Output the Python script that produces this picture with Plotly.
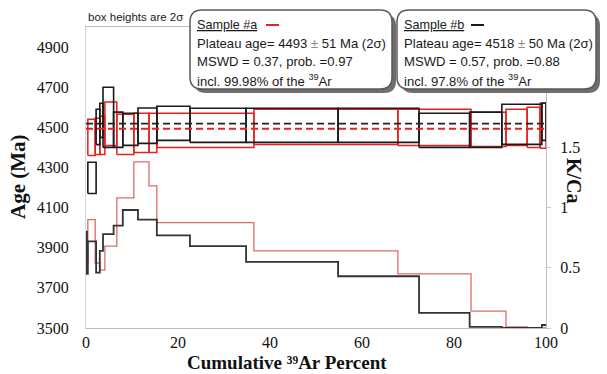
import plotly.graph_objects as go

# ---------------- data ----------------
# Sample #a (red): step boundaries in cumulative 39Ar %, apparent ages (Ma), 2-sigma, K/Ca
a_bounds = [0, 0.4, 2.0, 3.0, 4.1, 6.7, 10.4, 13.7, 15.4, 36.5, 67.8, 83.7, 91.3, 95.9, 98.7, 100]
a_age = [None, 4450, 4455, 4460, 4518, 4465, 4472, 4472, 4485, 4502, 4500, 4490, 4500, 4500, 4508]
a_err = [None, 90, 90, 95, 108, 100, 98, 98, 85, 88, 90, 85, 90, 100, 112]
a_kca = [0.54, 0.90, 0.54, 0.48, 0.68, 1.08, 1.38, 1.18, 0.875, 0.64, 0.45, 0.14, 0.01, 0.0, 0.0]

# Sample #b (black)
b_bounds = [0, 0.2, 0.4, 2.2, 3.0, 3.7, 6.0, 8.0, 11.3, 15.4, 22.6, 34.8, 54.8, 72.4, 83.4, 90.4, 99.1, 100]
b_age = [None, None, 4248, 4502, 4535, 4550, 4488, 4490, 4508, 4520, 4510, 4510, 4510, 4485, 4488, 4515, 4528]
b_err = [None, None, 78, 88, 85, 150, 88, 80, 88, 85, 85, 85, 85, 85, 88, 100, 93]
b_kca = [0.80, 0.45, 0.72, 0.46, 0.64, 0.78, 0.85, 0.98, 0.90, 0.77, 0.68, 0.55, 0.43, 0.125, 0.01, 0.0, 0.025]

plateau_age = {"a": 4493, "b": 4518}
plateau_err = {"a": 51, "b": 50}
mswd = {"a": "0.37", "b": "0.57"}
prob = {"a": "0.97", "b": "0.88"}
incl = {"a": "99.98", "b": "97.8"}

x_ticks = [0, 20, 40, 60, 80, 100]
age_ticks = [3500, 3700, 3900, 4100, 4300, 4500, 4700, 4900]
kca_ticks = [0, 0.5, 1, 1.5]
kca_labels = ["0", "0.5", "1", "1.5"]

RED = "#e3231f"
RED_LIGHT = "#e06a6a"
BLACK = "#1a1a1a"
BLACK_K = "#333333"

# ---------------- geometry ----------------
W, H = 607, 374
L, R, T, B = 86, 546, 27, 328


def px(xp):
    return (xp - L) / (R - L)


def py(yp):
    return (B - yp) / (B - T)


def boxes(bounds, ages, errs):
    xs, ys = [], []
    for i, (age, e) in enumerate(zip(ages, errs)):
        if age is None:
            continue
        x0, x1 = bounds[i], bounds[i + 1]
        lo, hi = age - e, age + e
        xs += [x0, x1, x1, x0, x0, None]
        ys += [lo, lo, hi, hi, lo, None]
    return xs, ys


fig = go.Figure()

# K/Ca step lines (secondary axis)
for bounds, kca, col, w in [(a_bounds, a_kca, RED_LIGHT, 1.3), (b_bounds, b_kca, BLACK_K, 1.8)]:
    fig.add_trace(go.Scatter(
        x=bounds[:-1] + [bounds[-1]], y=kca + [kca[-1]], mode="lines",
        line=dict(color=col, width=w, shape="hv"), yaxis="y2", hoverinfo="skip", showlegend=False))

# age spectrum boxes
ax, ay = boxes(a_bounds, a_age, a_err)
fig.add_trace(go.Scatter(x=ax, y=ay, mode="lines", line=dict(color=RED, width=1.5),
                         hoverinfo="skip", showlegend=False))
bx, by = boxes(b_bounds, b_age, b_err)
fig.add_trace(go.Scatter(x=bx, y=by, mode="lines", line=dict(color=BLACK, width=1.6),
                         hoverinfo="skip", showlegend=False))

# plateau dashed lines
for key, col in [("b", "#222222"), ("a", RED)]:
    fig.add_trace(go.Scatter(x=[x_ticks[0], x_ticks[-1]], y=[plateau_age[key]] * 2, mode="lines",
                             line=dict(color=col, width=1.8, dash="7px,4px"),
                             hoverinfo="skip", showlegend=False))

serif = "Liberation Serif"
sans = "Liberation Sans"

fig.update_layout(
    width=W, height=H,
    margin=dict(l=L, r=W - R, t=T, b=H - B, pad=0),
    paper_bgcolor="white", plot_bgcolor="white",
    xaxis=dict(range=[0, 100], tickvals=x_ticks, showgrid=False, zeroline=False,
               showline=True, linecolor="#bdbdbd", linewidth=1, mirror=True,
               ticks="", ticklabelstandoff=0,
               tickfont=dict(family=serif, size=16, color="#111")),
    yaxis=dict(range=[3500, 5000], tickvals=age_ticks, showgrid=False, zeroline=False,
               showline=True, linecolor="#d6d6d6", linewidth=1, ticks="",
               ticklabelstandoff=13,
               tickfont=dict(family=serif, size=16, color="#111")),
    yaxis2=dict(range=[0, 2.5], tickvals=kca_ticks, ticktext=kca_labels, overlaying="y",
                side="right", showgrid=False, zeroline=False, showline=True,
                linecolor="#bdbdbd", linewidth=1, ticks="outside", ticklen=4,
                tickcolor="#cccccc", ticklabelstandoff=6,
                tickfont=dict(family=serif, size=16, color="#111")),
)

annotations = []


def ann(xp, yp, text, size, family, xanchor="center", yanchor="middle", angle=0, color="#111"):
    annotations.append(dict(x=px(xp), y=py(yp), xref="paper", yref="paper", text=text,
                            xanchor=xanchor, yanchor=yanchor, textangle=angle, showarrow=False,
                            borderpad=0,
                            font=dict(family=family, size=size, color=color)))


# axis titles
ann(18, 177, "<b>Age (Ma)</b>", 21, serif, angle=-90)
ann(574, 181, "<b>K/Ca</b>", 20, serif, angle=90)
ann(287, 374, "<b>Cumulative ³⁹Ar Percent</b>", 19, serif, yanchor="bottom")
ann(87, 17, "box heights are 2σ", 11.5, sans, xanchor="left", color="#222")

shapes = []


def rounded_path(x0, y0, x1, y1, r):
    pts = [
        f"M {px(x0 + r)},{py(y0)}",
        f"L {px(x1 - r)},{py(y0)}",
        f"Q {px(x1)},{py(y0)} {px(x1)},{py(y0 + r)}",
        f"L {px(x1)},{py(y1 - r)}",
        f"Q {px(x1)},{py(y1)} {px(x1 - r)},{py(y1)}",
        f"L {px(x0 + r)},{py(y1)}",
        f"Q {px(x0)},{py(y1)} {px(x0)},{py(y1 - r)}",
        f"L {px(x0)},{py(y0 + r)}",
        f"Q {px(x0)},{py(y0)} {px(x0 + r)},{py(y0)}",
        "Z",
    ]
    return " ".join(pts)


for key, x0, x1, col, sw in [("a", 190, 392, RED, (266, 279)), ("b", 397, 596, BLACK, (471, 484))]:
    y0, y1 = 10, 89
    shapes.append(dict(type="path", path=rounded_path(x0 + 4, y0 + 4, x1 + 4, y1 + 4, 12),
                       xref="paper", yref="paper", fillcolor="#6e6e6e", line=dict(width=0), layer="above"))
    shapes.append(dict(type="path", path=rounded_path(x0, y0, x1, y1, 12),
                       xref="paper", yref="paper", fillcolor="white",
                       line=dict(color="#5a5a5a", width=1.5), layer="above"))
    shapes.append(dict(type="line", x0=px(sw[0]), x1=px(sw[1]), y0=py(25), y1=py(25),
                       xref="paper", yref="paper", line=dict(color=col, width=2), layer="above"))
    tx = x0 + 6
    lines = [
        f"<u>Sample #{key}</u>",
        f"Plateau age= {plateau_age[key]} <span style=\"color:#888\">±</span> {plateau_err[key]} Ma (2σ)",
        f"MSWD = {mswd[key]}, prob. ={prob[key]}",
        f"incl. {incl[key]}% of the <sup>39</sup>Ar",
    ]
    sizes = [12.6, 13.1, 13.1, 13.1]
    for i, t in enumerate(lines):
        ann(tx, [25, 43.5, 62, 80][i], t, sizes[i], sans, xanchor="left", color="#1a1a1a")

fig.update_layout(annotations=annotations, shapes=shapes)
fig.write_html("out.html", config={"displayModeBar": False},
               post_script="document.body.style.margin='0';")
